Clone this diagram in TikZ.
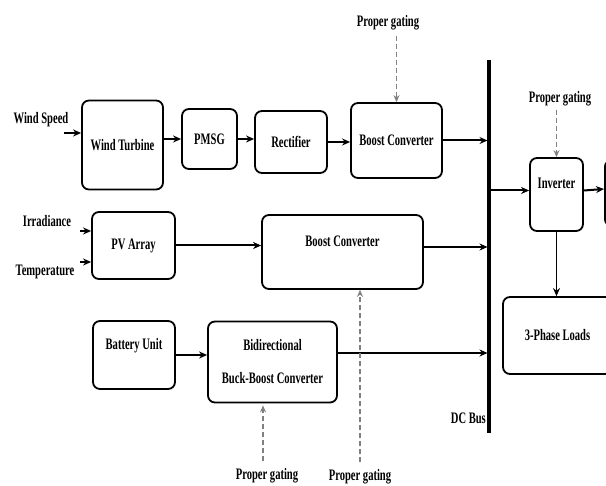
\documentclass[tikz,border=0pt]{standalone}
\usepackage{fontspec}
\setmainfont[FakeStretch=0.66]{Liberation Serif}
\usetikzlibrary{arrows.meta, positioning}

\begin{document}
\begin{tikzpicture}[
      x=1pt, y=-1pt,
      font=\fontsize{16}{16}\selectfont\bfseries,
      block/.style={draw, rounded corners=7pt, line width=1.8pt, align=center, inner sep=0pt},
      flow/.style={-{Stealth[length=8pt, width=7pt]}, line width=2pt},
      gate/.style={-{Stealth[length=7pt, width=6pt]}, line width=1.5pt, draw=gray, dash pattern=on 5pt off 3pt},
      lbl/.style={inner sep=1pt}
    ]
    \useasboundingbox (0,0) rectangle (606,486);
    \clip (0,0) rectangle (606,486);

    % wind branch
    \node[block, minimum width=81pt, minimum height=89pt] (turbine) at (122.5,145) {Wind Turbine};
    \node[block, minimum width=55pt, minimum height=60pt] (pmsg) at (209.5,139) {PMSG};
    \node[block, minimum width=72pt, minimum height=62pt] (rectifier) at (291,142) {Rectifier};
    \node[block, minimum width=91pt, minimum height=75pt] (boostw) at (396.5,140.5) {Boost Converter};

    % pv branch
    \node[block, minimum width=83pt, minimum height=67pt] (pv) at (133.5,245.5) {PV Array};
    \node[block, minimum width=161pt, minimum height=74pt] (boostpv) at (342.5,252) {Boost Converter\\[6pt]};

    % battery branch
    \node[block, minimum width=82pt, minimum height=68pt] (battery) at (134,355) {Battery Unit\\[6pt]};
    \node[block, minimum width=129pt, minimum height=81pt] (bidir) at (272.5,362) {Bidirectional\\[17pt]Buck-Boost Converter};

    % ac side
    \node[block, minimum width=53pt, minimum height=73pt] (inverter) at (556.5,194.5) {Inverter\\[6pt]};
    \node[block, minimum width=60pt, minimum height=66pt, anchor=west] (acbox) at (604,193) {};
    \node[block, minimum width=109pt, minimum height=77pt] (loads) at (557.5,335.5) {3-Phase Loads};

    % dc bus
    \coordinate (bustop) at (489,60);
    \coordinate (busbot) at (489,433);
    \draw[line width=3.5pt] (bustop) -- (busbot);
    \node[lbl, anchor=east] (buslabel) at (487,418) {DC Bus};

    % inputs
    \node[lbl] (wind) at (41,120) {Wind Speed};
    \node[lbl] (irr) at (47,221) {Irradiance};
    \node[lbl] (temp) at (45,272) {Temperature};
    \coordinate (windin) at (64,133);
    \coordinate (irrin) at (80,231);
    \coordinate (tempin) at (80,262);

    % gating labels
    \node[lbl] (gatew) at (388,23) {Proper gating};
    \node[lbl] (gateinv) at (560,99) {Proper gating};
    \node[lbl] (gatepv) at (360,477) {Proper gating};
    \node[lbl] (gatebat) at (267,476) {Proper gating};

    % power flow
    \draw[flow] (windin) -- (windin -| turbine.west);
    \draw[flow] (turbine.east |- pmsg) -- (pmsg.west);
    \draw[flow] (pmsg.east) -- (pmsg.east -| rectifier.west);
    \draw[flow] (rectifier.east) -- (rectifier.east -| boostw.west);
    \draw[flow, shorten >=1.5pt] (boostw.east) -- (boostw.east -| bustop);
    \draw[flow] (irrin) -- (irrin -| pv.west);
    \draw[flow] (tempin) -- (tempin -| pv.west);
    \draw[flow] (pv.east) -- (pv.east -| boostpv.west);
    \draw[flow, shorten >=1.5pt] ([yshift=5pt]boostpv.east) -- ([yshift=5pt]boostpv.east -| bustop);
    \draw[flow] (battery.east) -- (battery.east -| bidir.west);
    \draw[flow, shorten >=1.5pt] ([yshift=9pt]bidir.east) -- ([yshift=9pt]bidir.east -| bustop);
    \draw[flow] ([yshift=4pt]inverter.west -| bustop) -- ([yshift=4pt]inverter.west);
    \draw[flow] ([yshift=4pt]inverter.east) -- ([yshift=4pt]acbox.west);
    \draw[-{Stealth[length=8pt, width=7pt]}, line width=1.4pt] (inverter.south) -- (inverter.south |- loads.north);

    % gating signals
    \draw[gate] ([yshift=-4pt]gatew.south -| boostw.north) -- (boostw.north);
    \draw[gate] ([yshift=-2pt]gateinv.south -| inverter.north) -- (inverter.north);
    \draw[gate] ([yshift=6pt]gatepv.north) -- (gatepv.north |- boostpv.south);
    \draw[gate] ([yshift=6pt]gatebat.north -| 263,0) -- ([yshift=-2pt]bidir.south -| 263,0);
  \end{tikzpicture}
\end{document}
